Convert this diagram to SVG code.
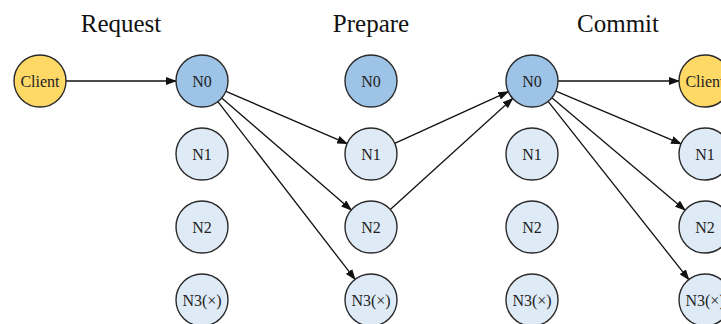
<svg xmlns="http://www.w3.org/2000/svg" width="721" height="324" viewBox="0 0 721 324">
<style>
.title{font-family:"Liberation Serif","Times New Roman",serif;font-size:25px;fill:#111;text-anchor:middle}
.lbl{font-family:"Liberation Serif","Times New Roman",serif;font-size:16px;fill:#222;text-anchor:middle;dominant-baseline:central}
circle{stroke:#2a2a2a;stroke-width:1.4}
.cl{fill:#FFD966}
.n0{fill:#9DC3E6}
.nx{fill:#DEEBF7}
.edge{stroke:#111;stroke-width:1.3;fill:none;marker-end:url(#arr)}
</style>
<defs>
<marker id="arr" markerUnits="userSpaceOnUse" markerWidth="11" markerHeight="8" refX="10" refY="4" orient="auto">
<path d="M0,0 L11,4 L0,8 z" fill="#111"/>
</marker>
</defs>
<text class="title" x="121" y="32">Request</text>
<text class="title" x="371" y="32">Prepare</text>
<text class="title" x="618" y="32">Commit</text>
<g id="edges">
<line class="edge" x1="66" y1="81" x2="176" y2="81"/>
<line class="edge" x1="225.9" y1="91.3" x2="347.1" y2="143.7"/>
<line class="edge" x1="221.7" y1="98" x2="351.3" y2="210"/>
<line class="edge" x1="217.9" y1="101.6" x2="355.1" y2="279.4"/>
<line class="edge" x1="394.7" y1="143.3" x2="508.3" y2="91.7"/>
<line class="edge" x1="390.3" y1="209.5" x2="512.7" y2="98.5"/>
<line class="edge" x1="558" y1="81" x2="679" y2="81"/>
<line class="edge" x1="555.9" y1="91.1" x2="681.1" y2="143.9"/>
<line class="edge" x1="551.9" y1="97.8" x2="685.1" y2="210.2"/>
<line class="edge" x1="548.1" y1="101.4" x2="688.9" y2="279.6"/>
</g>
<g id="req-client"><circle class="cl" cx="40" cy="81" r="26"/><text class="lbl" x="40" y="81">Client</text></g>
<g id="req-n0"><circle class="n0" cx="202" cy="81" r="26"/><text class="lbl" x="202" y="81">N0</text></g>
<g id="req-n1"><circle class="nx" cx="202" cy="154" r="26"/><text class="lbl" x="202" y="154">N1</text></g>
<g id="req-n2"><circle class="nx" cx="202" cy="227" r="26"/><text class="lbl" x="202" y="227">N2</text></g>
<g id="req-n3"><circle class="nx" cx="202" cy="300" r="26"/><text class="lbl" x="202" y="300">N3(×)</text></g>
<g id="prep-n0"><circle class="n0" cx="371" cy="81" r="26"/><text class="lbl" x="371" y="81">N0</text></g>
<g id="prep-n1"><circle class="nx" cx="371" cy="154" r="26"/><text class="lbl" x="371" y="154">N1</text></g>
<g id="prep-n2"><circle class="nx" cx="371" cy="227" r="26"/><text class="lbl" x="371" y="227">N2</text></g>
<g id="prep-n3"><circle class="nx" cx="371" cy="300" r="26"/><text class="lbl" x="371" y="300">N3(×)</text></g>
<g id="com-n0"><circle class="n0" cx="532" cy="81" r="26"/><text class="lbl" x="532" y="81">N0</text></g>
<g id="com-n1"><circle class="nx" cx="532" cy="154" r="26"/><text class="lbl" x="532" y="154">N1</text></g>
<g id="com-n2"><circle class="nx" cx="532" cy="227" r="26"/><text class="lbl" x="532" y="227">N2</text></g>
<g id="com-n3"><circle class="nx" cx="532" cy="300" r="26"/><text class="lbl" x="532" y="300">N3(×)</text></g>
<g id="res-client"><circle class="cl" cx="705" cy="81" r="26"/><text class="lbl" x="705" y="81">Client</text></g>
<g id="res-n1"><circle class="nx" cx="705" cy="154" r="26"/><text class="lbl" x="705" y="154">N1</text></g>
<g id="res-n2"><circle class="nx" cx="705" cy="227" r="26"/><text class="lbl" x="705" y="227">N2</text></g>
<g id="res-n3"><circle class="nx" cx="705" cy="300" r="26"/><text class="lbl" x="705" y="300">N3(×)</text></g>
</svg>
